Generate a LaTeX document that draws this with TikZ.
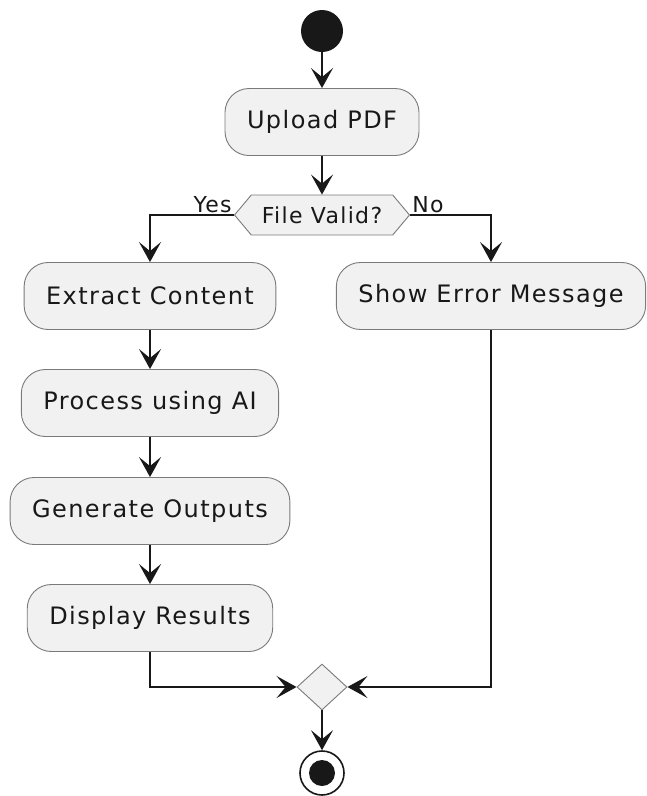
\documentclass[tikz,border=0pt]{standalone}
\usepackage{fontspec}
\setmainfont{DejaVu Sans}[LetterSpace=6.0]
\usepackage{xcolor}
\usetikzlibrary{arrows.meta,shapes.geometric,shapes.symbols}
\definecolor{actfill}{HTML}{F1F1F1}
\definecolor{actline}{HTML}{181818}
\definecolor{actborder}{HTML}{7A7A7A}

\begin{document}
\begin{tikzpicture}[x=1pt,y=-1pt,
    action/.style={rectangle,rounded corners=24pt,draw=actborder,fill=actfill,line width=0.9pt,
        minimum height=67pt,inner xsep=22pt,text=actline,font=\fontsize{24}{28}\selectfont},
    decision/.style={shape=signal,signal to=west and east,signal pointer angle=100,draw=actborder,
        fill=actfill,line width=0.9pt,minimum width=175pt,minimum height=40pt,inner sep=2pt,
        text=actline,font=\fontsize{22}{26}\selectfont},
    merge/.style={diamond,draw=actborder,fill=actfill,line width=0.9pt,minimum width=50pt,
        minimum height=46pt,inner sep=0pt},
    branchlabel/.style={inner sep=0pt,text=actline,font=\fontsize{22}{26}\selectfont},
    startnode/.style={circle,fill=actline,minimum size=42pt,inner sep=0pt},
    stopnode/.style={circle,draw=actline,fill=white,line width=1.6pt,minimum size=44pt,inner sep=0pt,
        path picture={\fill[actline] (path picture bounding box.center) circle (13pt);}},
    flow/.style={draw=actline,line width=1.5pt,-{Stealth[length=20pt,width=22pt,inset=9pt]}},
    join/.style={draw=actline,line width=1.5pt}]
    \useasboundingbox (0,0) rectangle (647,796);
    % nodes
    \node[startnode] (start) at (322,31) {};
    \node[action] (upload) at (322,122) {Upload PDF};
    \node[decision] (valid) at (322,215) {File Valid?};
    \node[branchlabel,anchor=base east] (yes) at ([xshift=-2pt,yshift=3pt]valid.west) {Yes};
    \node[branchlabel,anchor=base west] (no) at ([xshift=2pt,yshift=3pt]valid.east) {No};
    \node[action] (extract) at (150,296) {Extract Content};
    \node[action] (process) at (150,403) {Process using AI};
    \node[action] (generate) at (150,511) {Generate Outputs};
    \node[action] (display) at (150,618) {Display Results};
    \node[action] (error) at (491,296) {Show Error Message};
    \node[merge] (merge) at (322,687) {};
    \node[stopnode] (stop) at (322,773) {};
    % connectors
    \draw[flow] (start.south) -- (upload.north);
    \draw[flow] (upload.south) -- (valid.north);
    \draw[flow] (valid.west) -| (extract.north);
    \draw[flow] (valid.east) -| (error.north);
    \draw[flow] (extract.south) -- (process.north);
    \draw[flow] (process.south) -- (generate.north);
    \draw[flow] (generate.south) -- (display.north);
    \draw[flow] (display.south) |- (merge.west);
    \draw[flow] (error.south) |- (merge.east);
    \draw[flow] (merge.south) -- (stop.north);
\end{tikzpicture}
\end{document}
